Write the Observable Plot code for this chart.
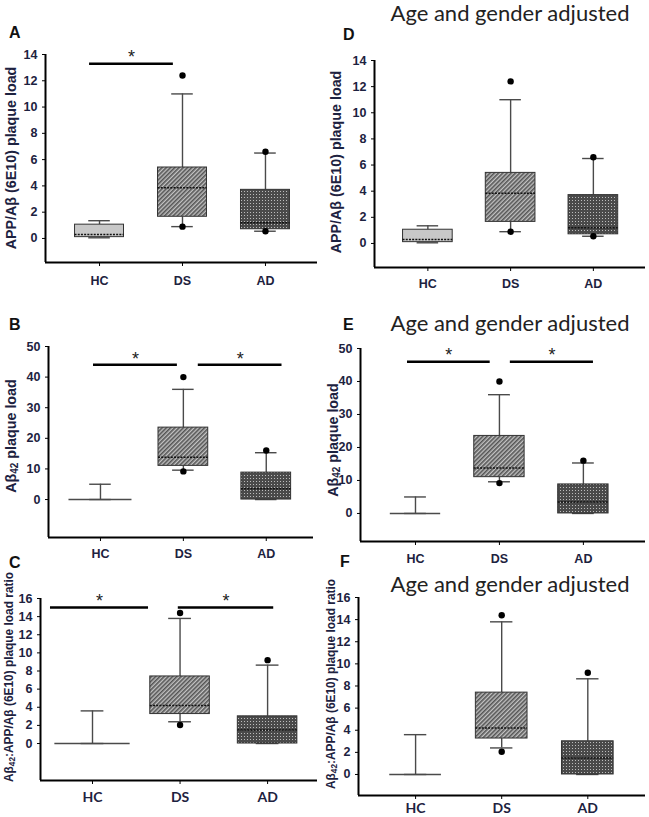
<!DOCTYPE html>
<html><head><meta charset="utf-8">
<script src="https://cdn.jsdelivr.net/npm/d3@7"></script>
<script src="https://cdn.jsdelivr.net/npm/@observablehq/plot@0.6"></script>
<style>
body{margin:0;background:#fff}
#fig{position:relative;width:649px;height:817px;overflow:hidden;font-family:"Liberation Sans",Arial,sans-serif}
.plabel{position:absolute;font-weight:bold;font-size:16px;color:#111;transform:translate(0,-50%)}
.ytitle{position:absolute;font-weight:bold;color:#1d2240;white-space:nowrap;transform:translate(-50%,-50%) rotate(-90deg)}
.ytitle sub{font-size:70%;vertical-align:-0.2em;line-height:0}
.ptitle{position:absolute;font-family:Lato,"Open Sans",sans-serif;font-size:22px;color:#222;white-space:nowrap;transform:translate(-50%,-50%)}
</style>
</head><body>
<svg width="0" height="0" style="position:absolute">
<defs>
<pattern id="hatchDS" width="3" height="3" patternUnits="userSpaceOnUse" patternTransform="rotate(-45)">
<rect width="3" height="3" fill="#c2c2c2"/><rect width="3" height="1.6" fill="#555555"/>
</pattern>
<pattern id="dotAD" width="3" height="3" patternUnits="userSpaceOnUse">
<rect width="3" height="3" fill="#4a4a4a"/><rect x="1" y="1" width="1" height="1" fill="#bcbcbc"/>
</pattern>
</defs>
</svg>
<div id="fig"></div>
<script>
// ---- data ----
const groups = ["HC", "DS", "AD"];

// APP/Aβ (6E10) plaque load (panels A, D)
const appLow = [0.05, 0.9, 0.55];
const appQ1 = [0.1, 1.65, 0.7];
const appMedian = [0.3, 3.85, 1.2];
const appQ3 = [1.05, 5.4, 3.7];
const appHigh = [1.35, 11.0, 6.5];
const appOutliers = [["DS", 12.4], ["DS", 0.9], ["AD", 6.6], ["AD", 0.55]];
const appTicks = [0, 2, 4, 6, 8, 10, 12, 14];

// Aβ42 plaque load (panels B, E)
const ab42Low = [0, 9.6, 0];
const ab42Q1 = [0, 11, 0];
const ab42Median = [0, 13.8, 3.5];
const ab42Q3 = [0, 23.5, 8.8];
const ab42High = [5, 36, 15.3];
const ab42Outliers = [["DS", 40], ["DS", 9.2], ["AD", 16]];
const ab42Ticks = [0, 10, 20, 30, 40, 50];

// Aβ42:APP/Aβ (6E10) plaque load ratio (panels C, F)
const ratioLow = [0, 2.4, 0];
const ratioQ1 = [0, 3.25, 0];
const ratioMedian = [0, 4.2, 1.5];
const ratioQ3 = [0, 7.4, 3.0];
const ratioHigh = [3.6, 13.8, 8.65];
const ratioOutliers = [["DS", 14.4], ["DS", 2.05], ["AD", 9.2]];
const ratioTicks = [0, 2, 4, 6, 8, 10, 12, 14, 16];

// significance comparisons
const sigA = [["HC", "DS"]];
const sigALevel = [13.3];
const sigB = [["HC", "DS"], ["DS", "AD"]];
const sigBLevel = [44, 44];
const sigC = [["HC", "DS"], ["DS", "AD"]];
const sigCLevel = [15.0, 15.0];
const sigE = [["HC", "DS"], ["DS", "AD"]];
const sigELevel = [46, 46];

// ---- styling / layout ----
const navy = "#1d2240";
const boxFill = {HC: "#c8c8c8", DS: "url(#hatchDS)", AD: "url(#dotAD)"};
const app = {lo: appLow, q1: appQ1, med: appMedian, q3: appQ3, hi: appHigh, out: appOutliers, ticks: appTicks};
const ab42 = {lo: ab42Low, q1: ab42Q1, med: ab42Median, q3: ab42Q3, hi: ab42High, out: ab42Outliers, ticks: ab42Ticks};
const ratio = {lo: ratioLow, q1: ratioQ1, med: ratioMedian, q3: ratioQ3, hi: ratioHigh, out: ratioOutliers, ticks: ratioTicks};

const panels = [
  {d: app, svg: [0, 40, 325, 255], left: 45, right: 317, top: 54, bottom: 262, yMin: -1.83, xDomain: [0.349, 3.627],
   hw: 0.295, cap: 0.13, flat: 0.3, xFont: "Liberation Sans", xSize: 12.5, xPad: 10,
   sig: sigA, sigLevel: sigALevel, sigOff: [[-0.12, -0.11]]},
  {d: app, svg: [325, 40, 324, 255], left: 374, right: 645, top: 60, bottom: 267, yMin: -1.84, xDomain: [0.355, 3.63],
   hw: 0.3, cap: 0.13, flat: 0.3, xFont: "Liberation Sans", xSize: 12.5, xPad: 8, sig: [], sigLevel: [], sigOff: []},
  {d: ab42, svg: [0, 330, 325, 235], left: 48, right: 313, top: 346, bottom: 537, yMin: -12.4, xDomain: [0.373, 3.57],
   hw: 0.3, cap: 0.13, flat: 0.38, xFont: "Liberation Sans", xSize: 12.5, xPad: 8,
   sig: sigB, sigLevel: sigBLevel, sigOff: [[-0.084, -0.072], [0.18, 0.19]]},
  {d: ab42, svg: [325, 330, 324, 235], left: 360, right: 645, top: 348, bottom: 541, yMin: -8.5, xDomain: [0.345, 3.74],
   hw: 0.3, cap: 0.13, flat: 0.3, xFont: "Liberation Sans", xSize: 12.5, xPad: 9,
   sig: sigE, sigLevel: sigELevel, sigOff: [[-0.095, -0.11], [0.13, 0.12]]},
  {d: ratio, svg: [0, 585, 325, 232], left: 40, right: 317, top: 598, bottom: 780, yMin: -4.08, xDomain: [0.406, 3.57],
   hw: 0.34, cap: 0.13, flat: 0.43, xFont: "Lato", xSize: 14, xPad: 8,
   sig: sigC, sigLevel: sigCLevel, sigOff: [[-0.48, -0.36], [-0.02, 0.07]]},
  {d: ratio, svg: [325, 585, 324, 232], left: 358, right: 645, top: 597, bottom: 795, yMin: -1.9, xDomain: [0.337, 3.67],
   hw: 0.3, cap: 0.13, flat: 0.3, xFont: "Lato", xSize: 14, xPad: 4, sig: [], sigLevel: [], sigOff: []}
];

const fig = document.getElementById("fig");
const gi = g => groups.indexOf(g) + 1;

function drawPanel(p) {
  const d = p.d;
  const rows = groups.map((g, k) => ({g, i: k + 1, lo: d.lo[k], q1: d.q1[k], med: d.med[k], q3: d.q3[k], hi: d.hi[k]}));
  const boxes = rows.filter(r => r.q3 > r.q1);
  const flats = rows.filter(r => r.q3 <= r.q1);
  const sigs = p.sig.map((pair, k) => ({x1: gi(pair[0]) + p.sigOff[k][0], x2: gi(pair[1]) + p.sigOff[k][1], y: p.sigLevel[k]}));
  const [sx, sy, sw, sh] = p.svg;
  const yMax = d.ticks[d.ticks.length - 1];
  const wk = {stroke: "#4a4a4a", strokeWidth: 1.4};
  const plot = Plot.plot({
    width: sw, height: sh,
    marginLeft: p.left - sx, marginRight: sx + sw - p.right,
    marginTop: p.top - sy, marginBottom: sy + sh - p.bottom,
    style: {fontFamily: "'Liberation Sans', Arial, sans-serif", fontSize: "12px", background: "transparent", overflow: "visible"},
    x: {domain: p.xDomain},
    y: {domain: [p.yMin, yMax]},
    marks: [
      Plot.ruleX(rows, {x: "i", y1: "q3", y2: "hi", ...wk}),
      Plot.ruleX(rows, {x: "i", y1: "lo", y2: "q1", ...wk}),
      Plot.ruleY(rows, {y: "hi", x1: r => r.i - p.cap, x2: r => r.i + p.cap, ...wk}),
      Plot.ruleY(rows, {y: "lo", x1: r => r.i - p.cap, x2: r => r.i + p.cap, ...wk}),
      ...groups.map(g => Plot.rect(boxes.filter(r => r.g === g), {
        x1: r => r.i - p.hw, x2: r => r.i + p.hw, y1: "q1", y2: "q3",
        fill: boxFill[g], stroke: "#333", strokeWidth: 1})),
      Plot.ruleY(flats, {y: "q1", x1: r => r.i - p.flat, x2: r => r.i + p.flat, ...wk}),
      Plot.ruleY(boxes, {y: "med", x1: r => r.i - p.hw, x2: r => r.i + p.hw, stroke: "#111", strokeWidth: 1.5, strokeDasharray: "2,1.2"}),
      Plot.dot(d.out, {x: o => gi(o[0]), y: o => o[1], r: 3.2, fill: "#000", stroke: "none"}),
      Plot.ruleY(sigs, {y: "y", x1: "x1", x2: "x2", stroke: "#000", strokeWidth: 2.5}),
      Plot.text(sigs, {x: s => (s.x1 + s.x2) / 2, y: "y", text: () => "*", dy: -6, fontSize: 18, fill: "#222"}),
      Plot.ruleX([p.xDomain[0]], {stroke: "#000", strokeWidth: 2}),
      Plot.ruleY([p.yMin], {stroke: "#000", strokeWidth: 2}),
      Plot.axisY({ticks: d.ticks, tickSize: 3, tickPadding: 5, label: null, fill: navy, stroke: "#000", fontSize: 12.5}),
      Plot.axisX({ticks: [1, 2, 3], tickFormat: v => groups[v - 1], tickSize: 4, tickPadding: p.xPad, label: null,
        fontSize: p.xSize, fontFamily: p.xFont, fill: navy, stroke: "#000"})
    ]
  });
  plot.style.position = "absolute";
  plot.style.left = sx + "px";
  plot.style.top = sy + "px";
  // bold axis labels (tick labels of both axes)
  plot.querySelectorAll("text").forEach(t => {
    if (t.textContent !== "*") t.style.fontWeight = "bold";
    if (/^\d+$/.test(t.textContent)) { t.style.fontSize = "12.5px"; t.style.fontFamily = "'Liberation Sans', Arial, sans-serif"; }
  });
  fig.appendChild(plot);
}
panels.forEach(drawPanel);

// ---- text annotations ----
function addDiv(cls, html, x, y, extra) {
  const el = document.createElement("div");
  el.className = cls;
  el.innerHTML = html;
  el.style.left = x + "px";
  el.style.top = y + "px";
  if (extra) Object.assign(el.style, extra);
  fig.appendChild(el);
}
const panelLetters = [["A", 9, 33], ["D", 343, 35], ["B", 9, 325], ["E", 343, 325], ["C", 9, 563], ["F", 340, 562]];
panelLetters.forEach(([t, x, y]) => addDiv("plabel", t, x, y));
const adjTitle = "Age and gender adjusted";
[[510, 12], [510, 322], [510, 583]].forEach(([x, y]) => addDiv("ptitle", adjTitle, x, y));
const yTitleApp = "APP/Aβ (6E10) plaque load";
const yTitleAb42 = "Aβ<sub>42</sub> plaque load";
const yTitleRatio = "Aβ<sub>42</sub>:APP/Aβ (6E10) plaque load ratio";
addDiv("ytitle", yTitleApp, 11, 158, {fontSize: "14.3px"});
addDiv("ytitle", yTitleApp, 336, 162, {fontSize: "14.3px"});
addDiv("ytitle", yTitleAb42, 11, 436, {fontSize: "14.3px"});
addDiv("ytitle", yTitleAb42, 333, 440, {fontSize: "14.3px"});
addDiv("ytitle", yTitleRatio, 9, 677, {fontSize: "11.9px"});
addDiv("ytitle", yTitleRatio, 331, 684, {fontSize: "11.9px"});
</script>
</body></html>
